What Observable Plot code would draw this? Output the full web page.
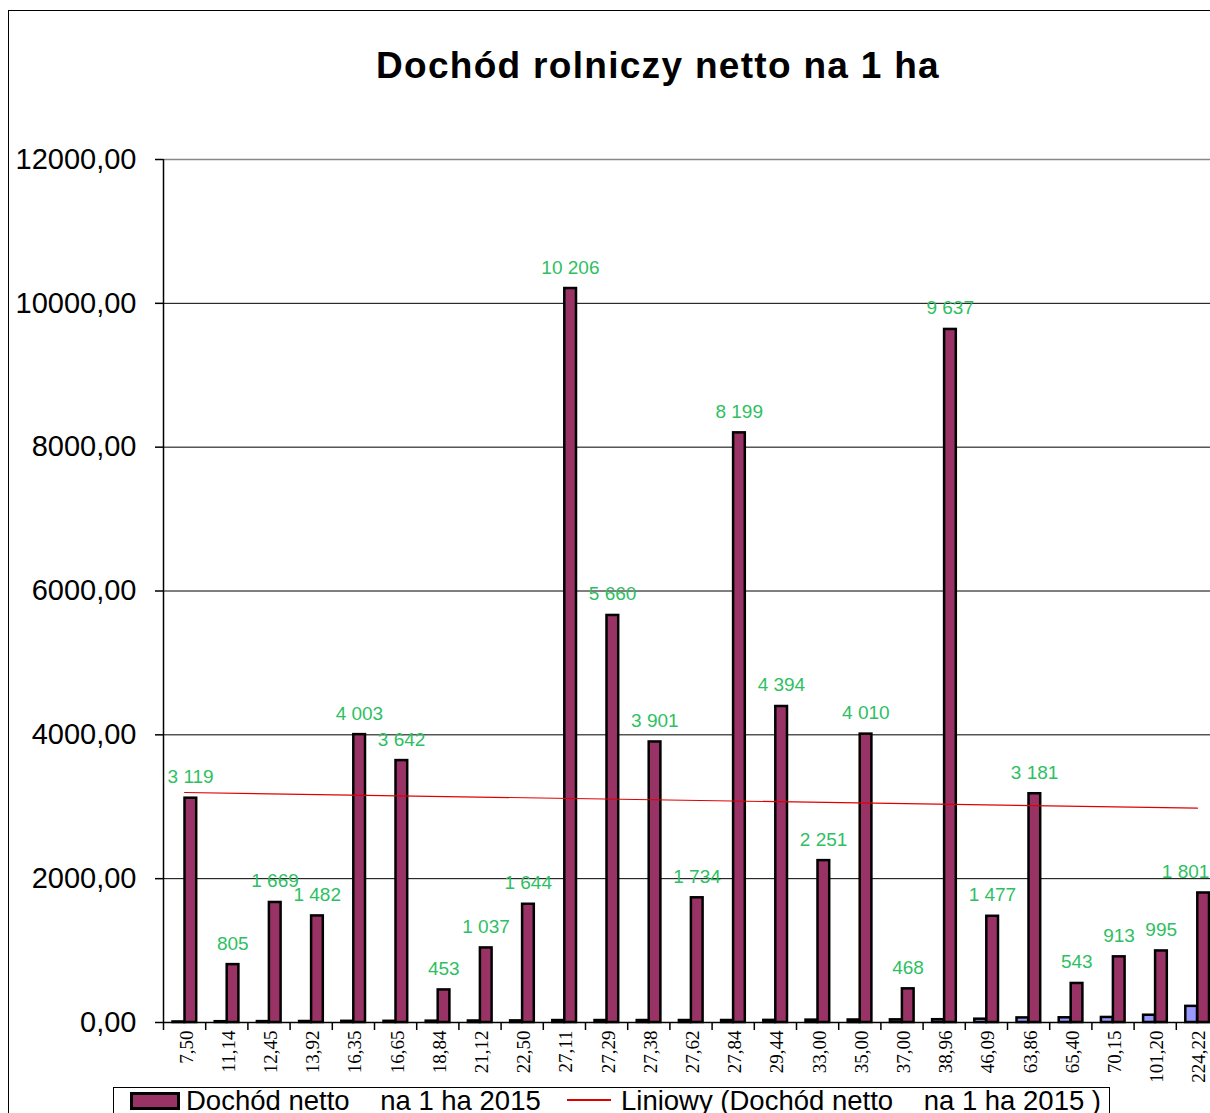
<!DOCTYPE html>
<html>
<head>
<meta charset="utf-8">
<script src="https://cdn.jsdelivr.net/npm/d3@7"></script>
<script src="https://cdn.jsdelivr.net/npm/@observablehq/plot@0.6"></script>
<style>
  html, body { margin: 0; padding: 0; background: #fff; width: 1210px; height: 1113px; overflow: hidden; position: relative; }
  #frame { position: absolute; left: 8px; top: 10px; width: 1300px; height: 1200px; border: 1.5px solid #000; box-sizing: border-box; }
  #title { position: absolute; left: 0; top: 47px; width: 1316px; text-align: center; font: bold 37px/37px "Liberation Sans", Arial, sans-serif; letter-spacing: 1.3px; color: #000; white-space: nowrap; }
  #chart { position: absolute; left: 0; top: 0; width: 1240px; }
  #chart svg { max-width: none !important; }
  #legend { position: absolute; left: 113px; top: 1087px; width: 997px; height: 60px; border: 1.5px solid #000; box-sizing: border-box; background: #fff; }
  .lg { position: absolute; font: 27.5px/27.5px "Liberation Sans", Arial, sans-serif; white-space: pre; color: #000; }
</style>
</head>
<body>
<div id="frame"></div>
<div id="title">Dochód rolniczy netto na 1 ha</div>
<div id="chart"></div>
<div id="legend"></div>
<div style="position:absolute;left:130px;top:1092px;width:50px;height:18px;background:#993366;border:3px solid #000;box-sizing:border-box;"></div>
<span class="lg" style="left:186px;top:1087px;">Dochód netto    na 1 ha 2015</span>
<div style="position:absolute;left:567px;top:1099px;width:44px;height:1.5px;background:#e00000;"></div>
<span class="lg" style="left:621px;top:1087px;">Liniowy (Dochód netto    na 1 ha 2015 )</span>
<script>
const categories = ["7,50","11,14","12,45","13,92","16,35","16,65","18,84","21,12","22,50","27,11","27,29","27,38","27,62","27,84","29,44","33,00","35,00","37,00","38,96","46,09","63,86","65,40","70,15","101,20","224,22"];
const areaValues = [7.50,11.14,12.45,13.92,16.35,16.65,18.84,21.12,22.50,27.11,27.29,27.38,27.62,27.84,29.44,33.00,35.00,37.00,38.96,46.09,63.86,65.40,70.15,101.20,224.22];
const incomeValues = [3119,805,1669,1482,4003,3642,453,1037,1644,10206,5660,3901,1734,8199,4394,2251,4010,468,9637,1477,3181,543,913,995,1801];
const yTicks = [0,2000,4000,6000,8000,10000,12000];

const data = categories.map((c, i) => ({i, cat: c, area: areaValues[i], income: incomeValues[i]}));
const fmtY = d => d.toFixed(2).replace(".", ",");
const fmtLabel = v => d3.format(",")(v).replace(/,/g, " ");
const n = categories.length;
const labelsMain = data.slice(0, n - 1);
const labelsLast = data.slice(n - 1);

const chart = Plot.plot({
  width: 1240,
  height: 1092,
  marginTop: 159,
  marginBottom: 70,
  marginLeft: 163,
  marginRight: 22,
  style: {fontFamily: "'Liberation Sans', Arial, sans-serif", color: "#000", background: "transparent", overflow: "visible", maxWidth: "none"},
  x: {domain: [0, n], axis: null},
  y: {domain: [0, 12000], axis: null},
  marks: [
    Plot.ruleY(yTicks.filter(t => t > 0 && t < 12000), {stroke: "#000", strokeWidth: 1}),
    Plot.ruleY([12000], {stroke: "#888", strokeWidth: 1.5}),
    Plot.text(labelsMain, {x: d => d.i + 0.5, y: "income", text: d => fmtLabel(d.income), dx: 6, dy: -15, lineAnchor: "bottom", textAnchor: "middle", fill: "#2EBF62", fontSize: 19}),
    Plot.text(labelsLast, {x: d => d.i + 0.5, y: "income", text: d => fmtLabel(d.income), dx: 12, dy: -15, lineAnchor: "bottom", textAnchor: "end", fill: "#2EBF62", fontSize: 19}),
    Plot.rectY(data, {x1: d => d.i, x2: d => d.i + 1, y: "area", insetLeft: 9.5, insetRight: 21, fill: "#9999FF", stroke: "#000", strokeWidth: 2.5}),
    Plot.rectY(data, {x1: d => d.i, x2: d => d.i + 1, y: "income", insetLeft: 21.5, insetRight: 9, fill: "#993366", stroke: "#000", strokeWidth: 2.5}),
    Plot.linearRegressionY(data, {x: d => d.i + 0.5, y: "income", stroke: "#e00000", strokeWidth: 1.2, ci: 0}),
    Plot.ruleY([0], {stroke: "#000", strokeWidth: 1.5}),
    Plot.ruleX([0], {y1: 0, y2: 12000, stroke: "#000", strokeWidth: 1.5}),
    Plot.axisY({ticks: yTicks, tickFormat: fmtY, tickSize: 8, tickPadding: 19, fontSize: 29, stroke: "#000", strokeWidth: 1.5}),
    Plot.axisX({ticks: d3.range(0, n + 1), tickFormat: () => "", tickSize: 8, stroke: "#000", strokeWidth: 1.5}),
    Plot.axisX({ticks: d3.range(0, n).map(i => i + 0.5), tickFormat: v => categories[Math.floor(v)], tickSize: 0, tickPadding: 8, tickRotate: -90, fontSize: 19, fontFamily: "'Liberation Serif', 'Times New Roman', serif", dx: 2})
  ]
});
document.getElementById("chart").appendChild(chart);
</script>
</body>
</html>
